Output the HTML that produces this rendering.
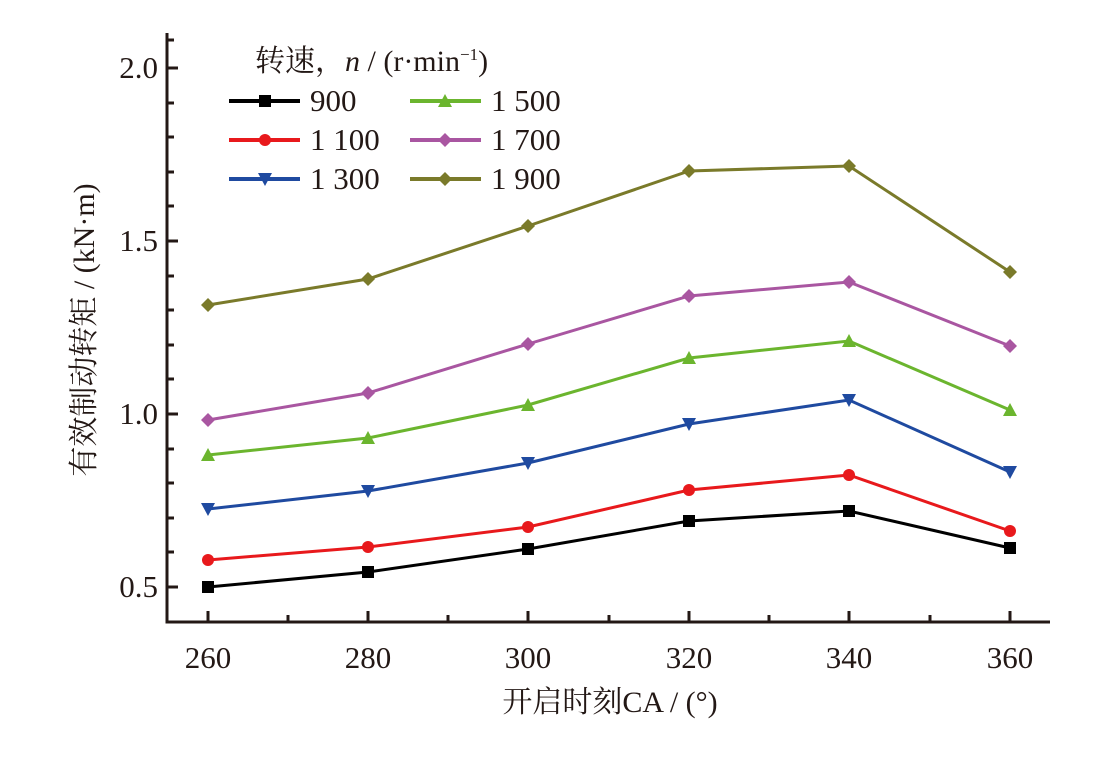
<!DOCTYPE html>
<html><head><meta charset="utf-8"><style>body{margin:0;background:#fff}svg text{font-family:"Liberation Serif","Noto Serif CJK SC",serif;fill:#231815}</style></head><body>
<svg width="1114" height="752" viewBox="0 0 1114 752">
<g stroke="#231815" stroke-width="3" fill="none">
<path d="M167,33V622H1050"/>
<path d="M167,68h11M167,241h11M167,414h11M167,587h11"/>
<path d="M167,103h7M167,137h7M167,172h7M167,206h7M167,276h7M167,310h7M167,345h7M167,379h7M167,449h7M167,483h7M167,518h7M167,552h7M167,40h7"/>
<path d="M208,622v-11M368,622v-11M528,622v-11M689,622v-11M849,622v-11M1010,622v-11"/>
<path d="M288,622v-7M448,622v-7M609,622v-7M769,622v-7M930,622v-7"/>
</g>
<g font-size="31" text-anchor="end"><text x="158" y="78">2.0</text><text x="158" y="251">1.5</text><text x="158" y="424">1.0</text><text x="158" y="597">0.5</text></g>
<g font-size="31" text-anchor="middle"><text x="208" y="668">260</text><text x="368" y="668">280</text><text x="528" y="668">300</text><text x="689" y="668">320</text><text x="849" y="668">340</text><text x="1010" y="668">360</text></g>
<text x="610" y="712" font-size="30" text-anchor="middle">开启时刻CA / (°)</text>
<text transform="translate(94,330) rotate(-90)" font-size="30" text-anchor="middle">有效制动转矩 / (kN·m)</text>
<g stroke-width="3" fill="none">
<polyline stroke="#000" points="208,587 368,572 528,549 689,521 849,511 1010,548"/>
<polyline stroke="#e8191c" points="208,560 368,547 528,527 689,490 849,475 1010,531"/>
<polyline stroke="#1f4aa0" points="208,509 368,491 528,463 689,424 849,400 1010,472"/>
<polyline stroke="#6bb52e" points="208,455 368,438 528,405 689,358 849,341 1010,410"/>
<polyline stroke="#a956a1" points="208,420 368,393 528,344 689,296 849,282 1010,346"/>
<polyline stroke="#7a7a2a" points="208,305 368,279 528,226 689,171 849,166 1010,272"/>
</g>
<defs>
<rect id="sq" x="-6" y="-6" width="12" height="12" fill="#000"/>
<circle id="ci" r="6" fill="#e8191c"/>
<path id="dt" d="M-7,-6H7L0,7Z" fill="#1f4aa0"/>
<path id="ut" d="M-7,6H7L0,-7Z" fill="#6bb52e"/>
<path id="dp" d="M0,-7L7,0L0,7L-7,0Z" fill="#a956a1"/>
<path id="do" d="M0,-7L7,0L0,7L-7,0Z" fill="#7a7a2a"/>
</defs>
<g>
<use href="#sq" x="208" y="587"/><use href="#sq" x="368" y="572"/><use href="#sq" x="528" y="549"/><use href="#sq" x="689" y="521"/><use href="#sq" x="849" y="511"/><use href="#sq" x="1010" y="548"/>
<use href="#ci" x="208" y="560"/><use href="#ci" x="368" y="547"/><use href="#ci" x="528" y="527"/><use href="#ci" x="689" y="490"/><use href="#ci" x="849" y="475"/><use href="#ci" x="1010" y="531"/>
<use href="#dt" x="208" y="509"/><use href="#dt" x="368" y="491"/><use href="#dt" x="528" y="463"/><use href="#dt" x="689" y="424"/><use href="#dt" x="849" y="400"/><use href="#dt" x="1010" y="472"/>
<use href="#ut" x="208" y="455"/><use href="#ut" x="368" y="438"/><use href="#ut" x="528" y="405"/><use href="#ut" x="689" y="358"/><use href="#ut" x="849" y="341"/><use href="#ut" x="1010" y="410"/>
<use href="#dp" x="208" y="420"/><use href="#dp" x="368" y="393"/><use href="#dp" x="528" y="344"/><use href="#dp" x="689" y="296"/><use href="#dp" x="849" y="282"/><use href="#dp" x="1010" y="346"/>
<use href="#do" x="208" y="305"/><use href="#do" x="368" y="279"/><use href="#do" x="528" y="226"/><use href="#do" x="689" y="171"/><use href="#do" x="849" y="166"/><use href="#do" x="1010" y="272"/>
</g>
<text x="255" y="71" font-size="30">转速，<tspan font-style="italic">n</tspan> / (r·min<tspan font-size="17" dy="-11">−1</tspan><tspan dy="11">)</tspan></text>
<g stroke-width="4">
<line x1="229" y1="101" x2="300" y2="101" stroke="#000"/>
<line x1="229" y1="140" x2="300" y2="140" stroke="#e8191c"/>
<line x1="229" y1="179" x2="300" y2="179" stroke="#1f4aa0"/>
<line x1="410" y1="101" x2="481" y2="101" stroke="#6bb52e"/>
<line x1="410" y1="140" x2="481" y2="140" stroke="#a956a1"/>
<line x1="410" y1="179" x2="481" y2="179" stroke="#7a7a2a"/>
</g>
<use href="#sq" x="265" y="101"/><use href="#ci" x="265" y="140"/><use href="#dt" x="265" y="179"/>
<use href="#ut" x="445" y="101"/><use href="#dp" x="445" y="140"/><use href="#do" x="445" y="179"/>
<g font-size="31"><text x="310" y="111">900</text><text x="310" y="150">1 100</text><text x="310" y="189">1 300</text><text x="491" y="111">1 500</text><text x="491" y="150">1 700</text><text x="491" y="189">1 900</text></g>
</svg>
</body></html>
